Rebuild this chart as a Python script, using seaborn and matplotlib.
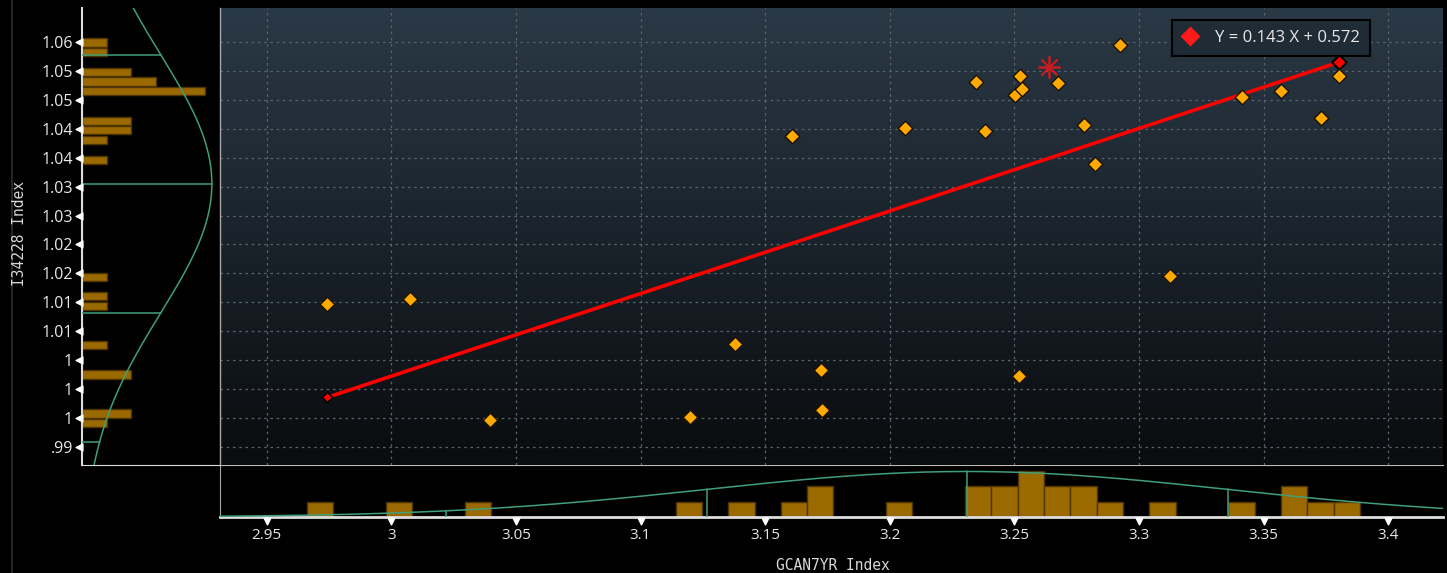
import numpy as np
import pandas as pd
import matplotlib
matplotlib.use('Agg')
import matplotlib.pyplot as plt
import matplotlib.transforms as mtransforms
from matplotlib.colors import LinearSegmentedColormap
from matplotlib.lines import Line2D
import seaborn as sns

# scatter points (GCAN7YR Index vs I34228 Index)
x_vals = [2.9742, 3.0075, 3.0396, 3.1198, 3.1379, 3.1608, 3.1724, 3.1728,
          3.2060, 3.2344, 3.2382, 3.2503, 3.2522, 3.2531, 3.2518, 3.2676,
          3.2778, 3.2822, 3.2924, 3.3124, 3.3414, 3.3568, 3.3728, 3.3802]
y_vals = [1.0135, 1.0144, 0.9934, 0.9939, 1.0066, 1.0426, 1.0021, 0.9952,
          1.0440, 1.0519, 1.0435, 1.0496, 1.0529, 1.0508, 1.0010, 1.0518,
          1.0445, 1.0377, 1.0583, 1.0184, 1.0494, 1.0503, 1.0457, 1.0529]
# latest observation (red asterisk)
last_x = [3.2640]
last_y = [1.0545]

# regression from the legend
slope = 0.143
intercept = 0.572

# marginal histograms (40 bins each)
x_bin_start, x_bin_width = 2.9662, 0.01056
x_hist_counts = [1, 0, 0, 1, 0, 0, 1, 0, 0, 0,
                 0, 0, 0, 0, 1, 0, 1, 0, 1, 2,
                 0, 0, 1, 0, 0, 2, 2, 3, 2, 2,
                 1, 0, 1, 0, 0, 1, 0, 2, 1, 1]
y_bin_start, y_bin_width = 0.99201, 0.00169
y_hist_counts = [1, 2, 0, 0, 0, 2, 0, 0, 1, 0,
                 0, 0, 1, 1, 0, 1, 0, 0, 0, 0,
                 0, 0, 0, 0, 0, 0, 0, 1, 0, 1,
                 2, 2, 0, 0, 5, 3, 2, 0, 1, 1]

# fitted normal curves on the margins
x_mean, x_sd, x_curve_peak = 3.2310, 0.1045, 2.94
y_mean, y_sd, y_curve_peak = 1.0343, 0.02234, 5.28

# ticks
x_ticks = [2.95, 3.0, 3.05, 3.1, 3.15, 3.2, 3.25, 3.3, 3.35, 3.4]
x_tick_labels = ['2.95', '3', '3.05', '3.1', '3.15', '3.2', '3.25', '3.3', '3.35', '3.4']
y_ticks = [0.9888, 0.9938, 0.9988, 1.0038, 1.0088, 1.0138, 1.0188, 1.0238,
           1.0288, 1.0338, 1.0388, 1.0438, 1.0488, 1.0538, 1.0588]
y_tick_labels = ['.99', '1', '1', '1', '1.01', '1.01', '1.02', '1.02',
                 '1.03', '1.03', '1.04', '1.04', '1.05', '1.05', '1.06']

XLIM = (2.9313, 3.4219)
YLIM = (0.98571, 1.06474)

sns.set_style('dark', {'axes.facecolor': 'black', 'figure.facecolor': 'black'})
plt.rcParams['font.family'] = ['Open Sans', 'DejaVu Sans']

TXT = '#e8e8e8'
BAR = '#9a6900'
BAR_EDGE = '#4d3400'
FIT = '#3f9e7c'

fig = plt.figure(figsize=(14.47, 5.73), dpi=100)
fig.patch.set_facecolor('black')
W, H = 1447, 573
ax = fig.add_axes([220 / W, (H - 464.5) / H, 1223 / W, 456.5 / H])
ax_left = fig.add_axes([82 / W, (H - 464.5) / H, 137 / W, 456.5 / H])
ax_bot = fig.add_axes([220 / W, (H - 517) / H, 1223 / W, 52.5 / H])

# --- main scatter panel
grad = np.linspace(0, 1, 256)[:, None]
bg = LinearSegmentedColormap.from_list('bg', ['#0a0c0e', '#1a232b', '#2a3946'])
ax.imshow(grad, aspect='auto', cmap=bg, extent=[0, 1, 0, 1],
          transform=ax.transAxes, origin='lower', zorder=0)

ax.set_xticks(x_ticks)
ax.set_yticks(y_ticks)
ax.tick_params(length=0, labelbottom=False, labelleft=False)
ax.grid(True, color='#5a646d', linestyle=(0, (2, 3)), linewidth=0.9)
ax.set_axisbelow(True)

x_line = np.array([min(x_vals), max(x_vals)])
y_line = slope * x_line + intercept
ax.plot(x_line, y_line, color='#ff0000', lw=2.6, zorder=3, solid_capstyle='butt')
ax.scatter(x_line[:1], y_line[:1], marker='D', s=28, color='#ff0000',
           edgecolor='black', linewidth=1.2, zorder=4)
ax.scatter(x_line[1:], y_line[1:], marker='D', s=55, color='#ff0000',
           edgecolor='black', linewidth=1.5, zorder=4)

sns.scatterplot(x=x_vals, y=y_vals, marker='D', s=55, color='#ffaa00',
                edgecolor='#1c1200', linewidth=1.0, ax=ax, zorder=5)
ax.plot(last_x, last_y, linestyle='none', marker=(8, 2, 0), markersize=16,
        color='#e0191e', mew=1.3, alpha=0.85, zorder=5)

handle = Line2D([], [], marker='D', linestyle='none', markerfacecolor='#ff1a1a',
                markeredgecolor='none', markersize=10.5)
leg = ax.legend([handle], [f'Y = {slope} X + {intercept}'], loc='upper left',
                bbox_to_anchor=(0.7784, 0.9737), borderaxespad=0, frameon=True,
                fancybox=False, facecolor='#1f2b35', edgecolor='black',
                framealpha=1, fontsize=12, handlelength=1.0, handletextpad=1.0,
                borderpad=0.6, labelcolor=TXT)
leg.get_frame().set_linewidth(1.5)
leg.set_zorder(10)

for s in ['top', 'right', 'bottom']:
    ax.spines[s].set_visible(False)
ax.spines['left'].set_color('#a8a8a8')
ax.spines['left'].set_linewidth(1)
ax.set_xlim(XLIM)
ax.set_ylim(YLIM)

# --- bottom histogram
x_edges = list(x_bin_start + x_bin_width * np.arange(len(x_hist_counts) + 1))
x_hist = pd.DataFrame({'x': [(a + b) / 2 for a, b in zip(x_edges[:-1], x_edges[1:])],
                       'count': x_hist_counts})
sns.histplot(data=x_hist, x='x', weights='count', bins=x_edges, ax=ax_bot,
             color=BAR, edgecolor=BAR_EDGE, linewidth=1, alpha=1)
xg = np.linspace(XLIM[0], XLIM[1], 400)
ax_bot.plot(xg, x_curve_peak * np.exp(-0.5 * ((xg - x_mean) / x_sd) ** 2),
            color=FIT, lw=1.1, zorder=4)
for k in [-2, -1, 0, 1]:
    xm = x_mean + k * x_sd
    ax_bot.plot([xm, xm], [0, x_curve_peak * np.exp(-0.5 * k ** 2)],
                color=FIT, lw=1.1, zorder=4)
ax_bot.set_xticks(x_ticks)
ax_bot.set_xticklabels(x_tick_labels)
ax_bot.set_xticks(np.arange(2.94, 3.421, 0.02), minor=True)
ax_bot.set_yticks([])
ax_bot.set_xlabel('')
ax_bot.set_ylabel('')
ax_bot.tick_params(axis='x', which='major', length=0, pad=8, labelsize=11, labelcolor=TXT)
ax_bot.tick_params(axis='x', which='minor', length=4, width=1, color='white', direction='out')
ax_bot.spines['right'].set_visible(False)
ax_bot.spines['top'].set_color('#bdbdbd')
ax_bot.spines['left'].set_color('#a8a8a8')
ax_bot.spines['bottom'].set_color('#dddddd')
ax_bot.spines['bottom'].set_linewidth(2)
trans_b = mtransforms.blended_transform_factory(ax_bot.transData, ax_bot.transAxes)
ax_bot.scatter(x_ticks, [-0.075] * len(x_ticks), marker='v', s=24, color='white',
               transform=trans_b, clip_on=False, zorder=6)
ax_bot.set_xlim(XLIM)
ax_bot.set_ylim(0, 3.39)

# --- left histogram
y_edges = list(y_bin_start + y_bin_width * np.arange(len(y_hist_counts) + 1))
y_hist = pd.DataFrame({'y': [(a + b) / 2 for a, b in zip(y_edges[:-1], y_edges[1:])],
                       'count': y_hist_counts})
sns.histplot(data=y_hist, y='y', weights='count', bins=y_edges, ax=ax_left,
             color=BAR, edgecolor=BAR_EDGE, linewidth=1, alpha=1, shrink=0.84)
yg = np.linspace(YLIM[0], YLIM[1], 400)
ax_left.plot(y_curve_peak * np.exp(-0.5 * ((yg - y_mean) / y_sd) ** 2), yg,
             color=FIT, lw=1.1, zorder=4)
for k in [-2, -1, 0, 1]:
    ym = y_mean + k * y_sd
    ax_left.plot([0, y_curve_peak * np.exp(-0.5 * k ** 2)], [ym, ym],
                 color=FIT, lw=1.1, zorder=4)
ax_left.set_xticks([])
ax_left.set_yticks(y_ticks)
ax_left.set_yticklabels(y_tick_labels)
ax_left.set_yticks([1.0638], minor=True)
ax_left.set_xlabel('')
ax_left.set_ylabel('')
ax_left.tick_params(axis='y', which='major', length=0, pad=6.5, labelsize=11.5, labelcolor=TXT)
ax_left.tick_params(axis='y', which='minor', length=3, width=1, color='white')
ax_left.spines['top'].set_visible(False)
ax_left.spines['right'].set_visible(False)
ax_left.spines['left'].set_color('#dddddd')
ax_left.spines['bottom'].set_color('#dddddd')
ax_left.spines['left'].set_linewidth(1.5)
trans_l = mtransforms.blended_transform_factory(ax_left.transAxes, ax_left.transData)
ax_left.scatter([-0.022] * len(y_ticks), y_ticks, marker='<', s=24, color='white',
                transform=trans_l, clip_on=False, zorder=6)
ax_left.set_xlim(0, 5.57)
ax_left.set_ylim(YLIM)

# axis titles
fig.text(20 / W, 1 - 233 / H, 'I34228 Index', rotation=90, ha='center', va='center',
         color='#d8d8d8', fontsize=10.5, family='DejaVu Sans Mono')
fig.text(833 / W, 1 - 565 / H, 'GCAN7YR Index', ha='center', va='center',
         color='#d8d8d8', fontsize=10.5, family='DejaVu Sans Mono')
fig.add_artist(Line2D([12 / W, 12 / W], [0, 1], transform=fig.transFigure,
                      color='#262626', lw=1.5))

fig.savefig('out.png', dpi=100, facecolor='black')
